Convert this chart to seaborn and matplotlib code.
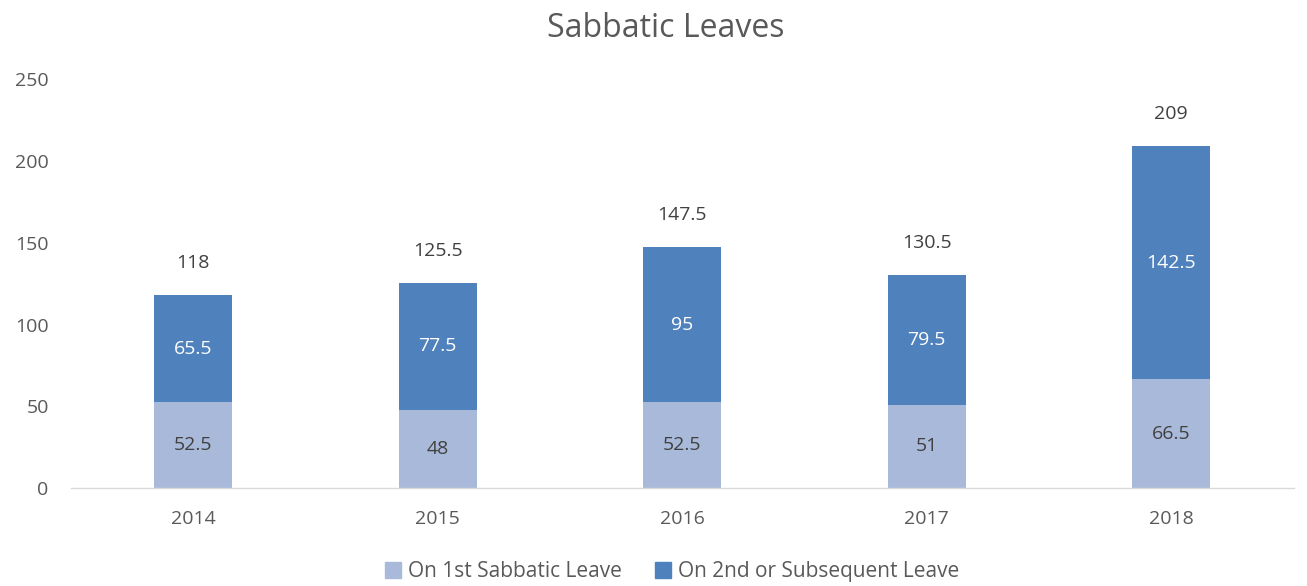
import matplotlib
matplotlib.use("Agg")
import matplotlib.pyplot as plt
import seaborn as sns
import pandas as pd
from matplotlib.patches import Patch

# data
years = ["2014", "2015", "2016", "2017", "2018"]
first_leave = [52.5, 48, 52.5, 51, 66.5]
subsequent_leave = [65.5, 77.5, 95, 79.5, 142.5]
totals = [118, 125.5, 147.5, 130.5, 209]

light_blue = "#A9B9D9"
dark_blue = "#4F81BD"
text_gray = "#595959"

sns.set_theme(style="white")
plt.rcParams["font.family"] = ["Open Sans", "DejaVu Sans"]

df = pd.DataFrame({"year": years, "first": first_leave, "second": subsequent_leave})

fig, ax = plt.subplots(figsize=(13.07, 5.86), dpi=100)
fig.subplots_adjust(left=0.0543, right=0.9897, bottom=0.167, top=0.865)

sns.barplot(data=df, x="year", y="first", color=light_blue, width=0.32,
            saturation=1, linewidth=0, ax=ax)
sns.barplot(data=df, x="year", y="second", bottom=df["first"], color=dark_blue,
            width=0.32, saturation=1, linewidth=0, ax=ax)

def fmt(v):
    return f"{v:g}"

for i in range(len(years)):
    ax.text(i, first_leave[i] / 2, fmt(first_leave[i]), ha="center", va="center",
            fontsize=14, color="#404040")
    ax.text(i, first_leave[i] + subsequent_leave[i] / 2, fmt(subsequent_leave[i]),
            ha="center", va="center", fontsize=14, color="white")
    ax.annotate(fmt(totals[i]), (i, totals[i]), xytext=(0, 23),
                textcoords="offset points", ha="center", va="center",
                fontsize=14, color="#404040")

ax.set_ylim(0, 250)
ax.set_yticks([0, 50, 100, 150, 200, 250])
ax.set_xlim(-0.5, 4.5)
ax.set_xlabel("")
ax.set_ylabel("")
ax.tick_params(axis="both", labelsize=14, labelcolor=text_gray, length=0)
ax.tick_params(axis="x", pad=16)
ax.tick_params(axis="y", pad=16)

for side in ["top", "right", "left"]:
    ax.spines[side].set_visible(False)
ax.spines["bottom"].set_color("#D9D9D9")
ax.spines["bottom"].set_linewidth(1)

fig.suptitle("Sabbatic Leaves", fontsize=23, color=text_gray, x=0.509, y=0.98)

handles = [Patch(color=light_blue, label="On 1st Sabbatic Leave"),
           Patch(color=dark_blue, label="On 2nd or Subsequent Leave")]
fig.legend(handles=handles, loc="lower center", ncol=2, frameon=False,
           fontsize=15, labelcolor=text_gray, bbox_to_anchor=(0.514, -0.025),
           handlelength=0.8, handleheight=0.8, handletextpad=0.3, columnspacing=1.6)

fig.savefig("out.png", dpi=100)
